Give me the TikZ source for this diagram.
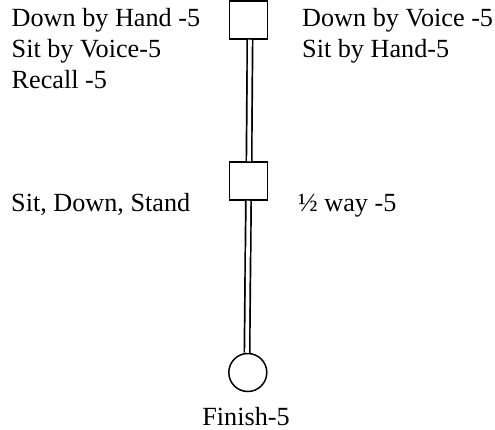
\documentclass[tikz,border=0pt]{standalone}
\usepackage{fontspec}
\setmainfont{Liberation Serif}
\begin{document}
\begin{tikzpicture}[x=1pt,y=-1pt,
  box/.style={draw,line width=1.5pt,minimum size=38pt,inner sep=0pt},
  endcircle/.style={draw,circle,line width=1.5pt,minimum size=38pt,inner sep=0pt},
  rail/.style={double,line width=1.7pt,double distance=3.6pt},
  lbl/.style={inner sep=0pt,font=\fontsize{26.2}{30}\selectfont}]
\useasboundingbox (0,0) rectangle (495,430);
\node[box] (top) at (248.5,20) {};
\node[box] (mid) at (248.5,181) {};
\node[endcircle] (fin) at (247.8,372.5) {};
\draw[rail] ([xshift=1.5pt]top.south) -- ([xshift=0.5pt]mid.north);
\draw[rail] ([xshift=0pt]mid.south) -- ([xshift=-0.8pt]fin.north);
\node[lbl,anchor=base west] (l1) at (11.5,27) {Down by Hand -5};
\node[lbl,anchor=base west] (l2) at (11.5,57.8) {Sit by Voice-5};
\node[lbl,anchor=base west] (l3) at (11.5,88.4) {Recall -5};
\node[lbl,anchor=base west] (r1) at (302,27) {Down by Voice -5};
\node[lbl,anchor=base west] (r2) at (302,57.8) {Sit by Hand-5};
\node[lbl,anchor=base west] (ml) at (11,212) {Sit, Down, Stand};
\node[lbl,anchor=base west] (mr) at (298,212) {½ way -5};
\node[lbl,anchor=base] (fl) at (246,425) {Finish-5};
\end{tikzpicture}
\end{document}
